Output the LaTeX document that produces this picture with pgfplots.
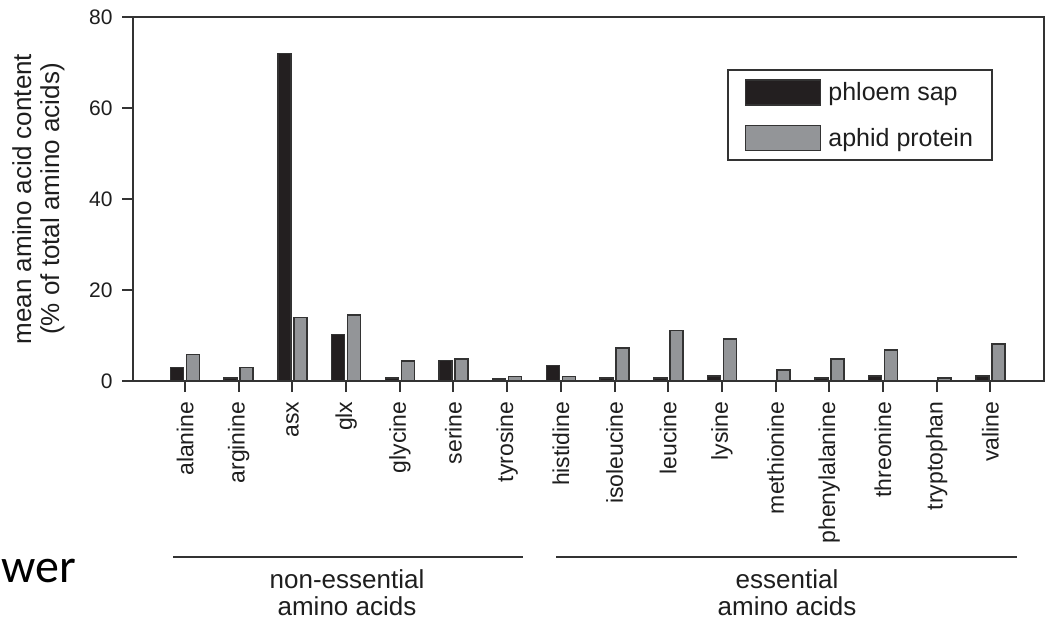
\documentclass[border=0pt]{standalone}
\usepackage{fontspec}
\setmainfont{Liberation Sans}
\newfontfamily\calibri{Carlito}
\usepackage{pgfplots}
\pgfplotsset{compat=1.18}
\definecolor{barblack}{HTML}{231F20}
\definecolor{bargrey}{HTML}{939598}
\definecolor{edge}{HTML}{333333}
\definecolor{txt}{HTML}{1E1E1E}

\begin{document}
\begin{tikzpicture}[x=1pt,y=1pt]
\path (0,0) rectangle (1047,-620);
\begin{axis}[
  at={(133pt,-381pt)}, anchor=south west,
  width=911pt, height=364pt, scale only axis,
  xmin=-0.97, xmax=16, ymin=0, ymax=80,
  ytick={0,20,40,60,80},
  xtick={0,...,15},
  xtick pos=bottom, ytick pos=left,
  xticklabels={alanine,arginine,asx,glx,glycine,serine,tyrosine,histidine,isoleucine,leucine,lysine,methionine,phenylalanine,threonine,tryptophan,valine},
  xticklabel style={rotate=90, anchor=east, font=\fontsize{23}{26}\selectfont, text=txt},
  xticklabel shift=6pt,
  yticklabel style={font=\fontsize{21}{24}\selectfont, text=txt},
  yticklabel shift=6pt,
  /pgf/number format/assume math mode=true,
  tick align=outside, major tick length=11pt,
  axis line style={edge, line width=2pt},
  every tick/.style={edge, line width=2pt},
  ylabel={mean amino acid content\\(\% of total amino acids)},
  ylabel style={align=center, font=\fontsize{26}{28}\selectfont, text=txt,
    at={(axis description cs:-0.0714,0.5)}, anchor=south},
  legend image code/.code={\draw[#1] (0pt,-12.5pt) rectangle (75pt,12.5pt);},
  legend style={at={(axis description cs:0.944,0.857)}, anchor=north east,
    draw=edge, line width=2pt, font=\fontsize{25}{28}\selectfont, text=txt,
    inner xsep=17pt, inner ysep=9pt, row sep=19pt,
    nodes={inner sep=2pt},
    /tikz/every odd column/.append style={column sep=5pt},
    cells={anchor=west}},
  legend cell align=left,
]
\addplot[ybar, bar width=13pt, bar shift=-8pt, fill=barblack, draw=edge, line width=1.6pt]
  coordinates {(0,3.0) (1,0.6) (2,72.0) (3,10.2) (4,0.6) (5,4.5) (6,0.5) (7,3.4)
               (8,0.6) (9,0.6) (10,1.1) (12,0.6) (13,1.1) (15,1.1)};
\addlegendentry{phloem sap}
\addplot[ybar, bar width=13pt, bar shift=8pt, fill=bargrey, draw=edge, line width=1.6pt]
  coordinates {(0,5.8) (1,3.0) (2,14.0) (3,14.5) (4,4.4) (5,4.9) (6,1.0) (7,1.0)
               (8,7.3) (9,11.1) (10,9.2) (11,2.4) (12,4.8) (13,6.8) (14,0.6) (15,8.1)};
\addlegendentry{aphid protein}
\end{axis}
\draw[edge, line width=2pt] (173,-557) -- (523,-557);
\draw[edge, line width=2pt] (556,-557) -- (1017,-557);
\node[anchor=base, inner sep=0pt, text=txt, font=\fontsize{26}{27}\selectfont] at (347,-588) {non-essential};
\node[anchor=base, inner sep=0pt, text=txt, font=\fontsize{26}{27}\selectfont] at (347,-615) {amino acids};
\node[anchor=base, inner sep=0pt, text=txt, font=\fontsize{26}{27}\selectfont] at (787,-588) {essential};
\node[anchor=base, inner sep=0pt, text=txt, font=\fontsize{26}{27}\selectfont] at (787,-615) {amino acids};
\node[anchor=base west, inner sep=0pt, font=\calibri\fontsize{48}{50}\selectfont] at (1,-582) {wer};
\end{tikzpicture}
\end{document}
